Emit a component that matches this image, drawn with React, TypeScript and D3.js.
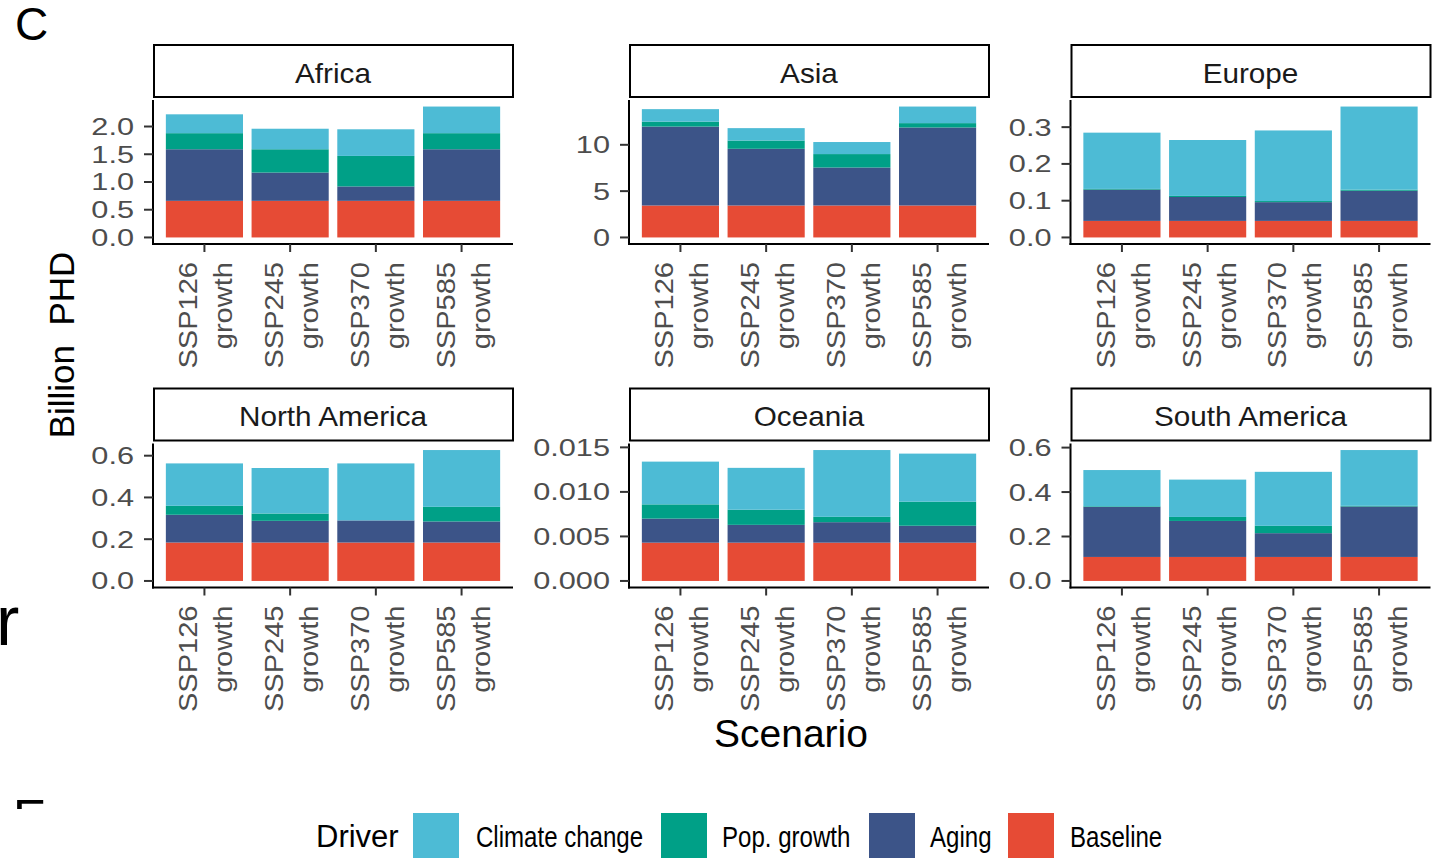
import React from "react";
import * as d3 from "d3";

// ---------- data ----------
const regions = ["Africa", "Asia", "Europe", "North America", "Oceania", "South America"];
const scenarios = ["SSP126 growth", "SSP245 growth", "SSP370 growth", "SSP585 growth"];
const drivers = ["Baseline", "Aging", "Pop. growth", "Climate change"]; // stacking order bottom -> top
const legendOrder = ["Climate change", "Pop. growth", "Aging", "Baseline"];
const driverColors = ["#E64B35", "#3C5488", "#00A087", "#4DBBD5"];

// values per region (rows) x scenario (columns), billion PHD
const baseline = [
  [0.66, 0.66, 0.66, 0.66],
  [3.45, 3.45, 3.45, 3.45],
  [0.045, 0.045, 0.045, 0.045],
  [0.184, 0.184, 0.184, 0.184],
  [0.0043, 0.0043, 0.0043, 0.0043],
  [0.108, 0.108, 0.108, 0.108],
];
const aging = [
  [0.93, 0.51, 0.26, 0.93],
  [8.52, 6.12, 4.1, 8.42],
  [0.085, 0.065, 0.051, 0.082],
  [0.133, 0.104, 0.106, 0.101],
  [0.0027, 0.002, 0.0023, 0.0019],
  [0.225, 0.162, 0.107, 0.227],
];
const popGrowth = [
  [0.29, 0.42, 0.55, 0.29],
  [0.53, 0.89, 1.45, 0.47],
  [0.002, 0.003, 0.003, 0.003],
  [0.043, 0.035, 0.0, 0.07],
  [0.0016, 0.0017, 0.0006, 0.0027],
  [0.003, 0.018, 0.033, 0.003],
];
const climateChange = [
  [0.34, 0.37, 0.48, 0.48],
  [1.35, 1.34, 1.3, 1.79],
  [0.153, 0.152, 0.192, 0.226],
  [0.203, 0.218, 0.273, 0.272],
  [0.0048, 0.0047, 0.0075, 0.0054],
  [0.163, 0.168, 0.243, 0.251],
];
const yTicks = [
  [0, 0.5, 1, 1.5, 2],
  [0, 5, 10],
  [0, 0.1, 0.2, 0.3],
  [0, 0.2, 0.4, 0.6],
  [0, 0.005, 0.01, 0.015],
  [0, 0.2, 0.4, 0.6],
];
const yDecimals = [1, 0, 1, 1, 3, 1];

// ---------- layout ----------
const colLeft = [153, 629, 1070.5];
const rowTop = [100, 443.5];
const PW = 360;
const PH = 144;
const FONT = "'Liberation Sans', Arial, Helvetica, sans-serif";

function Panel({ idx }: { idx: number }) {
  const col = idx % 3;
  const row = Math.floor(idx / 3);
  const left = colLeft[col];
  const top = rowTop[row];
  const bottom = top + PH;

  const rows = scenarios.map((s, j) => ({
    scenario: s,
    Baseline: baseline[idx][j],
    Aging: aging[idx][j],
    "Pop. growth": popGrowth[idx][j],
    "Climate change": climateChange[idx][j],
  }));
  const series = d3.stack<any>().keys(drivers)(rows);
  const max = d3.max(series[series.length - 1], (d) => d[1]) as number;

  const x = d3.scaleBand<string>().domain(scenarios).range([left, left + PW]).paddingInner(0.1).paddingOuter(0.15);
  const y = d3.scaleLinear().domain([-0.05 * max, 1.05 * max]).range([bottom, top]);
  const fmt = d3.format(`.${yDecimals[idx]}f`);

  return (
    <g>
      {/* strip */}
      <rect x={left + 1} y={top - 55} width={PW - 1} height={52} fill="#fff" stroke="#000" strokeWidth={2} />
      <text
        transform={`translate(${left + PW / 2},${top - 17.3}) scale(1.1,1)`}
        textAnchor="middle"
        fontSize={27}
        fill="#1A1A1A"
        fontFamily={FONT}
      >
        {regions[idx]}
      </text>
      {/* bars */}
      {series.map((s, k) => (
        <g key={k} fill={driverColors[k]}>
          {s.map((d, j) => (
            <rect
              key={j}
              x={x(scenarios[j])}
              width={x.bandwidth()}
              y={y(d[1])}
              height={Math.max(0, y(d[0]) - y(d[1]))}
            />
          ))}
        </g>
      ))}
      {/* axes */}
      <line x1={left} x2={left} y1={top} y2={bottom + 1} stroke="#000" strokeWidth={2} />
      <line x1={left - 1} x2={left + PW} y1={bottom} y2={bottom} stroke="#000" strokeWidth={2} />
      {yTicks[idx].map((t) => (
        <g key={t}>
          <line x1={left - 9} x2={left} y1={y(t)} y2={y(t)} stroke="#333" strokeWidth={2} />
          <text
            transform={`translate(${left - 19},${y(t) + 8.5}) scale(1.28,1)`}
            textAnchor="end"
            fontSize={24}
            fill="#4D4D4D"
            fontFamily={FONT}
          >
            {fmt(t)}
          </text>
        </g>
      ))}
      {scenarios.map((s) => {
        const cx = (x(s) as number) + x.bandwidth() / 2;
        const lines = s.split(" ");
        return (
          <g key={s}>
            <line x1={cx} x2={cx} y1={bottom} y2={bottom + 8} stroke="#333" strokeWidth={2} />
            <g transform={`translate(${cx},${bottom + 18}) rotate(-90) scale(1.14,1)`}>
              {lines.map((l, i) => (
                <text key={i} x={0} y={-7 + i * 35} textAnchor="end" fontSize={25.5} fill="#4D4D4D" fontFamily={FONT}>
                  {l}
                </text>
              ))}
            </g>
          </g>
        );
      })}
    </g>
  );
}

export default function App() {
  const legendKeyX = [413, 661, 869, 1008];
  const legendTextX = [476, 722, 930, 1070];
  return (
    <svg
      width={1440}
      height={858}
      viewBox="0 0 1440 858"
      style={{ position: "absolute", left: 0, top: 0, background: "#fff" }}
      fontFamily={FONT}
    >
      <defs>
        <clipPath id="clipE">
          <rect x={0} y={790} width={80} height={19} />
        </clipPath>
      </defs>
      <rect x={0} y={0} width={1440} height={858} fill="#fff" />
      <text x={15} y={40} fontSize={46} fill="#000">C</text>
      <text x={-4} y={645} fontSize={70} fill="#000">r</text>
      <text x={13} y={835} fontSize={50} fill="#000" clipPath="url(#clipE)">E</text>

      {regions.map((_, i) => (
        <Panel key={i} idx={i} />
      ))}

      <text
        transform="translate(74,345) rotate(-90)"
        textAnchor="middle"
        fontSize={35}
        fill="#000"
        style={{ whiteSpace: "pre" }}
      >
        {"Billion  PHD"}
      </text>
      <text x={791} y={747} textAnchor="middle" fontSize={39} fill="#000">Scenario</text>

      {/* legend */}
      <text x={316} y={847} fontSize={31} fill="#000">Driver</text>
      {legendOrder.map((name, i) => {
        const k = drivers.indexOf(name);
        return (
          <g key={name}>
            <rect x={legendKeyX[i]} y={813} width={46} height={46} fill={driverColors[k]} />
            <text transform={`translate(${legendTextX[i]},847) scale(0.83,1)`} fontSize={29} fill="#000">
              {name}
            </text>
          </g>
        );
      })}
    </svg>
  );
}
